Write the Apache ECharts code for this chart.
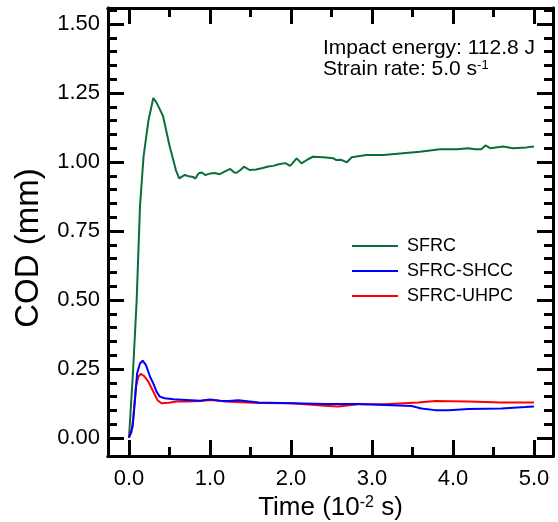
<!DOCTYPE html>
<html>
<head>
<meta charset="utf-8">
<script src="https://cdn.jsdelivr.net/npm/echarts@6/dist/echarts.min.js"></script>
<style>
html,body{margin:0;padding:0;background:#fff;}
#chart{width:558px;height:522px;}
</style>
</head>
<body>
<div id="chart"></div>
<script>
// ---- Data (time in 10^-2 s, COD in mm) ----
const sfrc = [
  [0.00,0.000],[0.05,0.24],[0.095,0.50],[0.136,0.84],[0.18,1.02],[0.24,1.15],[0.30,1.232],
  [0.34,1.215],[0.42,1.167],[0.50,1.06],[0.58,0.97],[0.62,0.941],[0.69,0.953],[0.74,0.948],
  [0.79,0.946],[0.82,0.94],[0.86,0.959],[0.90,0.962],[0.94,0.953],[1.00,0.958],[1.06,0.96],
  [1.12,0.956],[1.18,0.965],[1.25,0.975],[1.30,0.962],[1.33,0.961],[1.38,0.972],[1.42,0.983],
  [1.49,0.971],[1.57,0.973],[1.65,0.978],[1.72,0.984],[1.78,0.986],[1.85,0.992],[1.93,0.996],
  [1.99,0.986],[2.07,1.013],[2.13,0.995],[2.21,1.01],[2.27,1.019],[2.40,1.017],[2.52,1.014],
  [2.56,1.007],[2.62,1.008],[2.69,0.999],[2.75,1.017],[2.93,1.025],[3.14,1.025],[3.35,1.031],
  [3.59,1.037],[3.84,1.046],[4.05,1.046],[4.19,1.05],[4.27,1.046],[4.35,1.046],[4.40,1.06],
  [4.46,1.05],[4.62,1.056],[4.74,1.05],[4.91,1.053],[5.00,1.056]
];
const sfrcShcc = [
  [0.00,0.002],[0.045,0.04],[0.074,0.138],[0.10,0.234],[0.136,0.27],[0.169,0.28],[0.21,0.264],
  [0.26,0.222],[0.30,0.198],[0.34,0.168],[0.38,0.15],[0.44,0.144],[0.55,0.14],[0.71,0.138],
  [0.88,0.135],[1.00,0.14],[1.12,0.135],[1.23,0.134],[1.35,0.137],[1.60,0.129],[2.01,0.126],
  [2.42,0.123],[2.83,0.123],[3.16,0.12],[3.49,0.116],[3.61,0.107],[3.78,0.101],[3.95,0.101],
  [4.19,0.105],[4.60,0.107],[4.89,0.112],[5.00,0.114]
];
const sfrcUhpc = [
  [0.00,0.002],[0.03,0.02],[0.054,0.077],[0.086,0.186],[0.115,0.222],[0.144,0.232],[0.185,0.225],
  [0.24,0.204],[0.30,0.168],[0.35,0.138],[0.40,0.126],[0.49,0.128],[0.59,0.132],[0.71,0.132],
  [0.88,0.134],[1.00,0.138],[1.12,0.135],[1.19,0.132],[1.60,0.127],[2.01,0.126],[2.42,0.117],
  [2.58,0.114],[2.83,0.122],[3.16,0.122],[3.57,0.129],[3.78,0.134],[4.19,0.132],[4.60,0.129],
  [4.89,0.129],[5.00,0.129]
];
const seriesNames = ['SFRC', 'SFRC-SHCC', 'SFRC-UHPC'];
const xMajorTicks = [0, 1, 2, 3, 4, 5];
const xMinorTicks = [0.5, 1.5, 2.5, 3.5, 4.5];
const yMajorTicks = [0, 0.25, 0.5, 0.75, 1.0, 1.25, 1.5];
const yMinorTicks = [0.05,0.10,0.15,0.20,0.30,0.35,0.40,0.45,0.55,0.60,0.65,0.70,0.80,0.85,0.90,0.95,1.05,1.10,1.15,1.20,1.30,1.35,1.40,1.45,1.55];

// ---- Chart ----
const FONT = "'Liberation Sans', Arial, sans-serif";
const X_MIN = -0.259, X_MAX = 5.235, Y_MIN = -0.0652, Y_MAX = 1.558;
const lineStyle = { color: '#000', width: 3 };

function xAxisDef(pos, ticks, len, labels) {
  return {
    type: 'value', position: pos, min: X_MIN, max: X_MAX,
    axisLine: { show: true, onZero: false, lineStyle },
    axisTick: { show: true, inside: true, length: len, customValues: ticks, lineStyle: { color: '#000', width: 3 } },
    axisLabel: labels ? { show: true, customValues: ticks, margin: 12, fontSize: 22, color: '#000', fontFamily: FONT,
      formatter: v => v.toFixed(1) } : { show: false },
    splitLine: { show: false }
  };
}
function yAxisDef(pos, ticks, len, labels) {
  return {
    type: 'value', position: pos, min: Y_MIN, max: Y_MAX,
    axisLine: { show: true, onZero: false, lineStyle },
    axisTick: { show: true, inside: true, length: len, customValues: ticks, lineStyle: { color: '#000', width: 3 } },
    axisLabel: labels ? { show: true, customValues: ticks, margin: 8, fontSize: 22, color: '#000', fontFamily: FONT,
      formatter: v => v.toFixed(2) } : { show: false },
    splitLine: { show: false }
  };
}

const xMain = xAxisDef('bottom', xMajorTicks, 16, true);
xMain.name = '{n|Time (10}{s|-2}{n| s)}';
xMain.nameLocation = 'middle';
xMain.nameGap = 32;
xMain.nameTextStyle = {
  color: '#000', fontFamily: FONT,
  rich: {
    n: { fontSize: 26, fontFamily: FONT, color: '#000', verticalAlign: 'bottom' },
    s: { fontSize: 16, fontFamily: FONT, color: '#000', verticalAlign: 'top' }
  }
};
const yMain = yAxisDef('left', yMajorTicks, 16, true);
yMain.name = 'COD (mm)';
yMain.nameLocation = 'middle';
yMain.nameGap = 63;
yMain.nameTextStyle = { fontSize: 33, color: '#000', fontFamily: FONT, padding: [0, 32, 0, 0] };

const option = {
  animation: false,
  backgroundColor: '#fff',
  grid: { left: 108, right: 5, top: 8, bottom: 66, containLabel: false, outerBoundsMode: 'none' },
  xAxis: [
    xMain,
    xAxisDef('bottom', xMinorTicks, 9, false),
    xAxisDef('top', xMajorTicks, 16, false),
    xAxisDef('top', xMinorTicks, 9, false)
  ],
  yAxis: [
    yMain,
    yAxisDef('left', yMinorTicks, 9, false),
    yAxisDef('right', yMajorTicks, 16, false),
    yAxisDef('right', yMinorTicks, 9, false)
  ],
  legend: {
    data: seriesNames,
    orient: 'vertical',
    left: 352, top: 237, padding: 0,
    itemWidth: 46, itemHeight: 2, itemGap: 7,
    icon: 'rect',
    textStyle: { fontSize: 18, color: '#000', fontFamily: FONT, padding: [0, 0, 0, 4] }
  },
  graphic: [
    { type: 'text', x: 323, y: 48, silent: true,
      style: { text: 'Impact energy: 112.8 J', fontSize: 21, fontFamily: FONT, fill: '#000', verticalAlign: 'middle', align: 'left' } },
    { type: 'text', x: 323, y: 69, silent: true,
      style: { text: '{n|Strain rate: 5.0 s}{s|-1}', fontFamily: FONT, fill: '#000', verticalAlign: 'middle', align: 'left',
        rich: {
          n: { fontSize: 21, fontFamily: FONT, fill: '#000', verticalAlign: 'bottom' },
          s: { fontSize: 13, fontFamily: FONT, fill: '#000', verticalAlign: 'top' }
        } } }
  ],
  series: [
    { name: seriesNames[0], type: 'line', data: sfrc, showSymbol: false, symbol: 'none', color: '#0b6e3a', lineStyle: { width: 2, color: '#0b6e3a' }, z: 3 },
    { name: seriesNames[1], type: 'line', data: sfrcShcc, showSymbol: false, symbol: 'none', color: '#0000ff', lineStyle: { width: 2, color: '#0000ff' }, z: 4 },
    { name: seriesNames[2], type: 'line', data: sfrcUhpc, showSymbol: false, symbol: 'none', color: '#ff0000', lineStyle: { width: 2, color: '#ff0000' }, z: 3 }
  ]
};

const chart = echarts.init(document.getElementById('chart'), null, { renderer: 'canvas' });
chart.setOption(option);
</script>
</body>
</html>
